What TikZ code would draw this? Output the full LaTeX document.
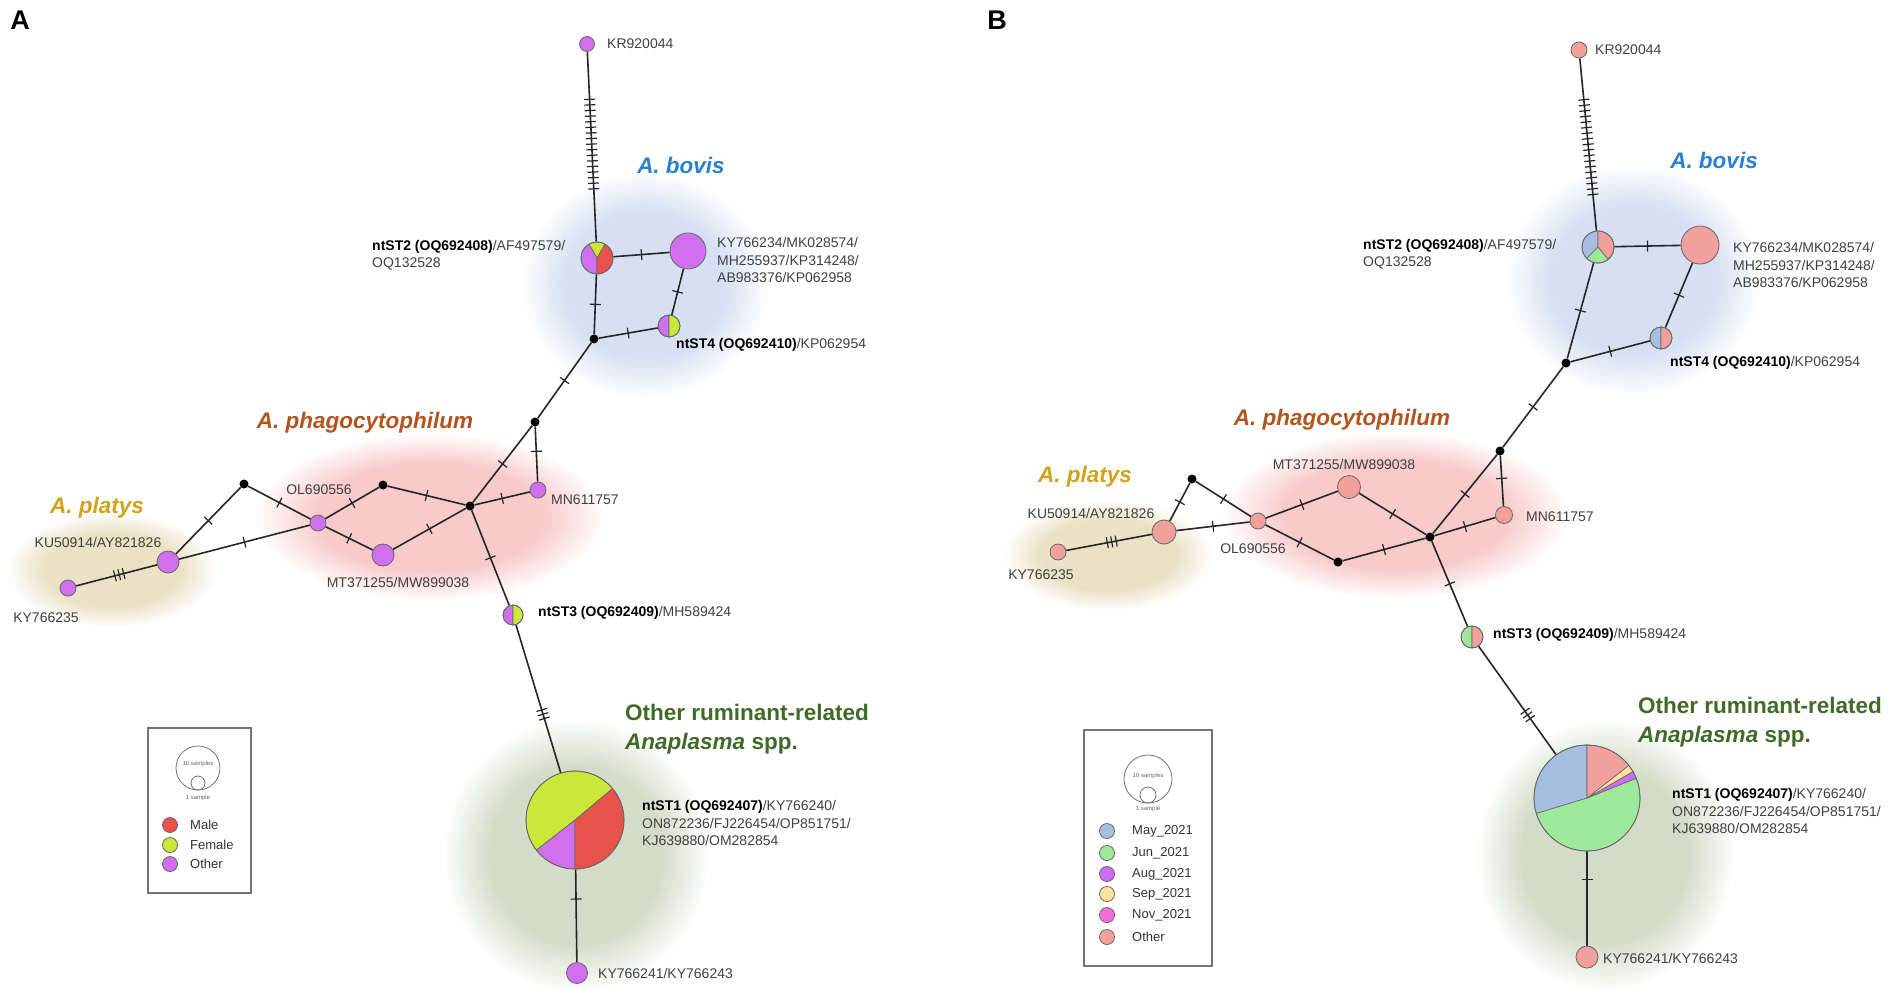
\documentclass[tikz,border=0pt]{standalone}
\usepackage{fontspec}
\setmainfont{Liberation Sans}
\usetikzlibrary{decorations.markings}

% Colours of the pies and of the group areas
\definecolor{male}{HTML}{E8524C}
\definecolor{female}{HTML}{C9E83A}
\definecolor{othera}{HTML}{D070EE}
\definecolor{may}{HTML}{A6BEE0}
\definecolor{jun}{HTML}{9DE89A}
\definecolor{aug}{HTML}{CF6CF5}
\definecolor{sep}{HTML}{FBE29A}
\definecolor{nov}{HTML}{F26CDF}
\definecolor{otherb}{HTML}{F2A09E}
\definecolor{txt}{HTML}{404040}
\definecolor{bovis}{HTML}{2A80D0}
\definecolor{phago}{HTML}{B3541E}
\definecolor{platys}{HTML}{D2A21A}
\definecolor{rumin}{HTML}{3F6A27}
\definecolor{bovisbg}{HTML}{D6E0F2}
\definecolor{phagobg}{HTML}{F8CACA}
\definecolor{platysbg}{HTML}{EBE2C6}
\definecolor{ruminbg}{HTML}{D3DCC8}

% Soft areas behind the groups
\pgfdeclareradialshading{bovisglow}{\pgfpointorigin}{color(0bp)=(bovisbg); color(16bp)=(bovisbg); color(25bp)=(white); color(50bp)=(white)}
\pgfdeclareradialshading{phagoglow}{\pgfpointorigin}{color(0bp)=(phagobg); color(16bp)=(phagobg); color(25bp)=(white); color(50bp)=(white)}
\pgfdeclareradialshading{platysglow}{\pgfpointorigin}{color(0bp)=(platysbg); color(16bp)=(platysbg); color(25bp)=(white); color(50bp)=(white)}
\pgfdeclareradialshading{ruminglow}{\pgfpointorigin}{color(0bp)=(ruminbg); color(16bp)=(ruminbg); color(25bp)=(white); color(50bp)=(white)}

\pgfdeclarelayer{areas}
\pgfdeclarelayer{links}
\pgfdeclarelayer{slices}
\pgfsetlayers{areas,links,slices,main}

\newcommand{\lblsize}{\fontsize{14}{17.5}\selectfont}
\newcommand{\grpsize}{\fontsize{22.5}{29}\selectfont}
\newcommand{\legsize}{\fontsize{13}{15}\selectfont}
\newcommand{\tinysize}{\fontsize{6}{7}\selectfont}

% centre node, radius, from angle, to angle, colour
\newcommand{\hapslice}[5]{%
  \filldraw[fill=#5, draw=black!60, line width=0.6pt] (#1.center) -- ++(-#3:#2)
    arc[start angle=-#3, end angle=-#4, radius=#2] -- cycle;}

\begin{document}
\begin{tikzpicture}[x=1pt, y=-1pt]
        % Styles for haplotypes, median vectors and links
        \tikzset{
            hap/.style={circle, draw=black!60, line width=0.8pt, inner sep=0pt},
            med/.style={circle, fill=black, inner sep=0pt, minimum size=9pt},
            link/.style={line width=1.6pt, draw=black!85},
            mut/.style={postaction={decorate, decoration={markings,
                mark=at position #1 with {\draw[line width=1.2pt] (0,-5.5) -- (0,5.5);}}}},
            mut/.default=0.5,
            muts/.style n args={3}{postaction={decorate, decoration={markings,
                mark=between positions #1 and #2 step #3 with {\draw[line width=1.2pt] (0,-5.5) -- (0,5.5);}}}},
            lbl/.style={font=\lblsize, text=txt, inner sep=0pt, align=left},
            grp/.style={font=\grpsize\bfseries\itshape, inner sep=0pt},
            leg/.style={font=\legsize, text=black!80, inner sep=0pt},
            legdot/.style={circle, draw=black!60, line width=0.8pt, inner sep=0pt, minimum size=15pt},
            legbox/.style={draw=black!55, line width=1.2pt, inner sep=0pt},
        }

        \useasboundingbox (0,0) rectangle (1902,1002);

        % Panel letters
        \node[font=\fontsize{27}{27}\selectfont\bfseries] (letA) at (20,20) {A};
        \node[font=\fontsize{27}{27}\selectfont\bfseries] (letB) at (997,20) {B};

        % ---------------- Panel A ----------------
        \begin{pgfonlayer}{areas}
            \shade[shading=bovisglow] (645,285) ellipse [x radius=124, y radius=114];
            \shade[shading=phagoglow] (430,517) ellipse [x radius=176, y radius=84];
            \shade[shading=platysglow] (112,570) ellipse [x radius=106, y radius=58];
            \shade[shading=ruminglow] (576,855) ellipse [x radius=134, y radius=138];
        \end{pgfonlayer}

        % Haplotypes
        \node[hap, fill=othera, minimum size=15pt] (aKR) at (587,44) {};
        \node[hap, minimum size=32pt] (aST2) at (597,258) {};
        \node[hap, fill=othera, minimum size=36pt] (aBig) at (688,251) {};
        \node[hap, minimum size=22pt] (aST4) at (669,326) {};
        \node[hap, fill=othera, minimum size=16pt] (aMN) at (538,490) {};
        \node[hap, fill=othera, minimum size=16pt] (aOL) at (318,523) {};
        \node[hap, fill=othera, minimum size=22pt] (aMT) at (383,555) {};
        \node[hap, fill=othera, minimum size=22pt] (aKU) at (168,562) {};
        \node[hap, fill=othera, minimum size=16pt] (aKY5) at (68,588) {};
        \node[hap, minimum size=20pt] (aST3) at (513,615) {};
        \node[hap, minimum size=98pt] (aST1) at (575,820) {};
        \node[hap, fill=othera, minimum size=21pt] (aKY1) at (577,973) {};
        % Median vectors
        \node[med] (aJ1) at (594,339) {};
        \node[med] (aJ2) at (535,422) {};
        \node[med] (aJ3) at (470,506) {};
        \node[med] (aM1) at (383,485) {};
        \node[med] (aM2) at (244,484) {};

        \begin{pgfonlayer}{slices}
            \hapslice{aST2}{16}{60}{120}{female}
            \hapslice{aST2}{16}{120}{270}{othera}
            \hapslice{aST2}{16}{270}{420}{male}
            \hapslice{aST4}{11}{90}{270}{othera}
            \hapslice{aST4}{11}{270}{450}{female}
            \hapslice{aST3}{10}{90}{270}{othera}
            \hapslice{aST3}{10}{270}{450}{female}
            \hapslice{aST1}{49}{40}{218}{female}
            \hapslice{aST1}{49}{218}{270}{othera}
            \hapslice{aST1}{49}{270}{400}{male}
        \end{pgfonlayer}

        \begin{pgfonlayer}{links}
            \draw[link, muts={0.25}{0.74}{5.6pt}] (aKR) -- (aST2);
            \draw[link, mut] (aST2) -- (aBig);
            \draw[link, mut] (aBig) -- (aST4);
            \draw[link, mut] (aST2) -- (aJ1);
            \draw[link, mut] (aJ1) -- (aST4);
            \draw[link, mut] (aJ1) -- (aJ2);
            \draw[link, mut] (aJ2) -- (aJ3);
            \draw[link, mut=0.45] (aJ2) -- (aMN);
            \draw[link, mut] (aJ3) -- (aMN);
            \draw[link, mut] (aJ3) -- (aM1);
            \draw[link, mut] (aM1) -- (aOL);
            \draw[link, mut] (aOL) -- (aMT);
            \draw[link, mut] (aMT) -- (aJ3);
            \draw[link, mut] (aM2) -- (aOL);
            \draw[link, mut] (aKU) -- (aM2);
            \draw[link, mut] (aKU) -- (aOL);
            \draw[link, muts={0.48}{0.6}{4.5pt}] (aKY5) -- (aKU);
            \draw[link, mut] (aJ3) -- (aST3);
            \draw[link, muts={0.575}{0.65}{4.5pt}] (aST3) -- (aST1);
            \draw[link, mut=0.32] (aST1) -- (aKY1);
        \end{pgfonlayer}

        % Sequence labels
        \node[lbl, anchor=west] (aKRl) at (607,44) {KR920044};
        \node[lbl, anchor=west] (aST2l) at (372,255) {\textbf{\color{black}ntST2 (OQ692408)}/AF497579/\\OQ132528};
        \node[lbl, anchor=west] (aBigl) at (717,260) {KY766234/MK028574/\\MH255937/KP314248/\\AB983376/KP062958};
        \node[lbl, anchor=west] (aST4l) at (676,345) {\textbf{\color{black}ntST4 (OQ692410)}/KP062954};
        \node[lbl, anchor=west] (aMNl) at (551,500) {MN611757};
        \node[lbl] (aOLl) at (319,490) {OL690556};
        \node[lbl] (aMTl) at (398,582) {MT371255/MW899038};
        \node[lbl] (aKUl) at (98,542) {KU50914/AY821826};
        \node[lbl] (aKY5l) at (46,618) {KY766235};
        \node[lbl, anchor=west] (aST3l) at (538,613) {\textbf{\color{black}ntST3 (OQ692409)}/MH589424};
        \node[lbl, anchor=west] (aST1l) at (642,823) {\textbf{\color{black}ntST1 (OQ692407)}/KY766240/\\ON872236/FJ226454/OP851751/\\KJ639880/OM282854};
        \node[lbl, anchor=west] (aKY1l) at (598,973) {KY766241/KY766243};

        % Group names
        \node[grp, text=bovis] (aBovis) at (681,165) {A. bovis};
        \node[grp, text=phago] (aPhago) at (365,423) {A. phagocytophilum};
        \node[grp, text=platys] (aPlatys) at (97,508) {A. platys};
        \node[grp, text=rumin, font=\grpsize\bfseries, align=left, anchor=west] (aRumin) at (625,729)
            {Other ruminant-related\\\textit{Anaplasma} spp.};

        % Legend
        \node[legbox, minimum width=103pt, minimum height=165pt] (aLeg) at (199.5,810.5) {};
        \node[circle, draw=black!55, line width=0.8pt, inner sep=0pt, minimum size=44pt] (aS10) at (198,768) {};
        \node[circle, draw=black!55, line width=0.8pt, inner sep=0pt, minimum size=14pt] (aS1) at (198,783) {};
        \node[font=\tinysize, text=black!60, inner sep=0pt] (aS10l) at (198,764) {10 samples};
        \node[font=\tinysize, text=black!60, inner sep=0pt] (aS1l) at (198,798) {1 sample};
        \node[legdot, fill=male] (aLm) at (170,825) {};
        \node[legdot, fill=female] (aLf) at (170,845) {};
        \node[legdot, fill=othera] (aLo) at (170,864) {};
        \node[leg, anchor=west] (aLml) at (190,825) {Male};
        \node[leg, anchor=west] (aLfl) at (190,845) {Female};
        \node[leg, anchor=west] (aLol) at (190,864) {Other};

        % ---------------- Panel B ----------------
        \begin{pgfonlayer}{areas}
            \shade[shading=bovisglow] (1633,280) ellipse [x radius=128, y radius=116];
            \shade[shading=phagoglow] (1395,515) ellipse [x radius=174, y radius=84];
            \shade[shading=platysglow] (1108,555) ellipse [x radius=106, y radius=56];
            \shade[shading=ruminglow] (1605,855) ellipse [x radius=130, y radius=136];
        \end{pgfonlayer}

        % Haplotypes
        \node[hap, fill=otherb, minimum size=16pt] (bKR) at (1579,50) {};
        \node[hap, minimum size=32pt] (bST2) at (1598,247) {};
        \node[hap, fill=otherb, minimum size=38pt] (bBig) at (1700,245) {};
        \node[hap, minimum size=22pt] (bST4) at (1661,338) {};
        \node[hap, fill=otherb, minimum size=17pt] (bMN) at (1504,515) {};
        \node[hap, fill=otherb, minimum size=23pt] (bMT) at (1349,487) {};
        \node[hap, fill=otherb, minimum size=16pt] (bOL) at (1258,521) {};
        \node[hap, fill=otherb, minimum size=24pt] (bKU) at (1164,532) {};
        \node[hap, fill=otherb, minimum size=16pt] (bKY5) at (1058,552) {};
        \node[hap, minimum size=22pt] (bST3) at (1472,637) {};
        \node[hap, minimum size=106pt] (bST1) at (1587,798) {};
        \node[hap, fill=otherb, minimum size=22pt] (bKY1) at (1587,957) {};
        % Median vectors
        \node[med] (bJ1) at (1566,363) {};
        \node[med] (bJ2) at (1500,451) {};
        \node[med] (bJ3) at (1430,537) {};
        \node[med] (bM1) at (1338,562) {};
        \node[med] (bM2) at (1192,479) {};

        \begin{pgfonlayer}{slices}
            \hapslice{bST2}{16}{90}{225}{may}
            \hapslice{bST2}{16}{225}{310}{jun}
            \hapslice{bST2}{16}{310}{450}{otherb}
            \hapslice{bST4}{11}{90}{270}{may}
            \hapslice{bST4}{11}{270}{450}{otherb}
            \hapslice{bST3}{11}{90}{270}{jun}
            \hapslice{bST3}{11}{270}{450}{otherb}
            \hapslice{bST1}{53}{90}{197}{may}
            \hapslice{bST1}{53}{197}{382}{jun}
            \hapslice{bST1}{53}{382}{390}{aug}
            \hapslice{bST1}{53}{390}{398}{sep}
            \hapslice{bST1}{53}{398}{450}{otherb}
        \end{pgfonlayer}

        \begin{pgfonlayer}{links}
            \draw[link, muts={0.24}{0.8}{5.6pt}] (bKR) -- (bST2);
            \draw[link, mut] (bST2) -- (bBig);
            \draw[link, mut] (bBig) -- (bST4);
            \draw[link, mut] (bST2) -- (bJ1);
            \draw[link, mut] (bJ1) -- (bST4);
            \draw[link, mut] (bJ1) -- (bJ2);
            \draw[link, mut] (bJ2) -- (bJ3);
            \draw[link, mut=0.45] (bJ2) -- (bMN);
            \draw[link, mut] (bJ3) -- (bMN);
            \draw[link, mut] (bJ3) -- (bMT);
            \draw[link, mut] (bMT) -- (bOL);
            \draw[link, mut] (bOL) -- (bM1);
            \draw[link, mut] (bM1) -- (bJ3);
            \draw[link, mut] (bM2) -- (bOL);
            \draw[link, mut] (bKU) -- (bM2);
            \draw[link, mut] (bKU) -- (bOL);
            \draw[link, muts={0.48}{0.6}{4.5pt}] (bKY5) -- (bKU);
            \draw[link, mut] (bJ3) -- (bST3);
            \draw[link, muts={0.6}{0.7}{4.5pt}] (bST3) -- (bST1);
            \draw[link, mut=0.3] (bST1) -- (bKY1);
        \end{pgfonlayer}

        % Sequence labels
        \node[lbl, anchor=west] (bKRl) at (1595,50) {KR920044};
        \node[lbl, anchor=west] (bST2l) at (1363,254) {\textbf{\color{black}ntST2 (OQ692408)}/AF497579/\\OQ132528};
        \node[lbl, anchor=west] (bBigl) at (1733,265) {KY766234/MK028574/\\MH255937/KP314248/\\AB983376/KP062958};
        \node[lbl, anchor=west] (bST4l) at (1670,363) {\textbf{\color{black}ntST4 (OQ692410)}/KP062954};
        \node[lbl, anchor=west] (bMNl) at (1526,517) {MN611757};
        \node[lbl] (bOLl) at (1253,549) {OL690556};
        \node[lbl] (bMTl) at (1344,464) {MT371255/MW899038};
        \node[lbl] (bKUl) at (1091,513) {KU50914/AY821826};
        \node[lbl] (bKY5l) at (1041,575) {KY766235};
        \node[lbl, anchor=west] (bST3l) at (1493,635) {\textbf{\color{black}ntST3 (OQ692409)}/MH589424};
        \node[lbl, anchor=west] (bST1l) at (1672,811) {\textbf{\color{black}ntST1 (OQ692407)}/KY766240/\\ON872236/FJ226454/OP851751/\\KJ639880/OM282854};
        \node[lbl, anchor=west] (bKY1l) at (1603,958) {KY766241/KY766243};

        % Group names
        \node[grp, text=bovis] (bBovis) at (1714,160) {A. bovis};
        \node[grp, text=phago] (bPhago) at (1342,420) {A. phagocytophilum};
        \node[grp, text=platys] (bPlatys) at (1085,477) {A. platys};
        \node[grp, text=rumin, font=\grpsize\bfseries, align=left, anchor=west] (bRumin) at (1638,722)
            {Other ruminant-related\\\textit{Anaplasma} spp.};

        % Legend
        \node[legbox, minimum width=128pt, minimum height=236pt] (bLeg) at (1148,848) {};
        \node[circle, draw=black!55, line width=0.8pt, inner sep=0pt, minimum size=48pt] (bS10) at (1148,779) {};
        \node[circle, draw=black!55, line width=0.8pt, inner sep=0pt, minimum size=16pt] (bS1) at (1148,795) {};
        \node[font=\tinysize, text=black!60, inner sep=0pt] (bS10l) at (1148,776) {10 samples};
        \node[font=\tinysize, text=black!60, inner sep=0pt] (bS1l) at (1148,809) {1 sample};
        \node[legdot, fill=may] (bLmay) at (1107,831) {};
        \node[legdot, fill=jun] (bLjun) at (1107,853) {};
        \node[legdot, fill=aug] (bLaug) at (1107,874) {};
        \node[legdot, fill=sep] (bLsep) at (1107,894) {};
        \node[legdot, fill=nov] (bLnov) at (1107,915) {};
        \node[legdot, fill=otherb] (bLoth) at (1107,937) {};
        \node[leg, anchor=west] (bLmayl) at (1132,831) {May\_2021};
        \node[leg, anchor=west] (bLjunl) at (1132,853) {Jun\_2021};
        \node[leg, anchor=west] (bLaugl) at (1132,874) {Aug\_2021};
        \node[leg, anchor=west] (bLsepl) at (1132,894) {Sep\_2021};
        \node[leg, anchor=west] (bLnovl) at (1132,915) {Nov\_2021};
        \node[leg, anchor=west] (bLothl) at (1132,937) {Other};
\end{tikzpicture}
\end{document}
